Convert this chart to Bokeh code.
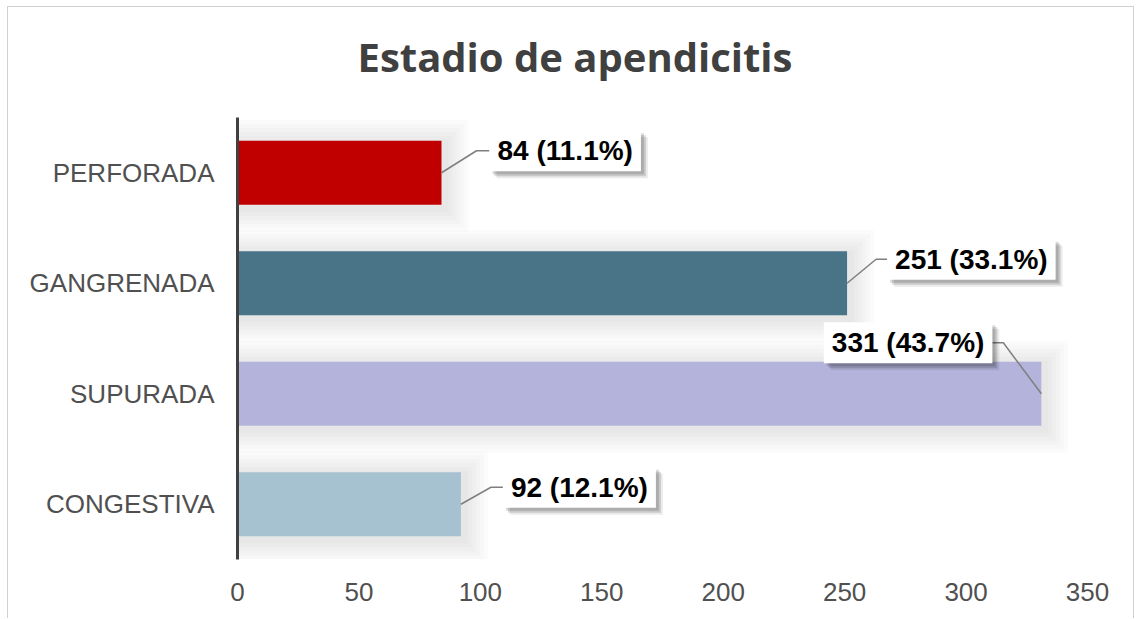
from bokeh.plotting import figure
from bokeh.models import Range1d, FixedTicker, ColumnDataSource
from bokeh.embed import file_html
from bokeh.resources import INLINE
from bokeh.core.properties import value

# ---------------- data ----------------
title_text = "Estadio de apendicitis"
categories = ["PERFORADA", "GANGRENADA", "SUPURADA", "CONGESTIVA"]
counts = [84, 251, 331, 92]
percents = [11.1, 33.1, 43.7, 12.1]
x_ticks = [0, 50, 100, 150, 200, 250, 300, 350]

# ---------------- style / layout ----------------
bar_colors = ["#C00000", "#497387", "#B4B3DC", "#A6C2D0"]
label_box_dx = [48, 40, -49, 42]     # px from bar end to near box edge
label_elbow_dx = [35, 29, -38, 30]   # px from bar end to leader elbow
label_dy = [-22, -24, -51, -17]      # px (screen, negative = up)

W, H = 1127, 612
MB_L, MB_R, MB_T, MB_B = 229, 48, 110, 60
FRAME_W = W - MB_L - MB_R
FRAME_H = H - MB_T - MB_B
X_MAX = x_ticks[-1]
n = len(categories)
PXX = FRAME_W / X_MAX
PXY = FRAME_H / n
BAR_H = 0.58
FONT = "Liberation Sans"

ys = [n - i for i in range(n)]

p = figure(width=W, height=H, x_range=Range1d(0, X_MAX), y_range=Range1d(0.5, n + 0.5),
           output_backend="svg", toolbar_location=None,
           min_border_left=MB_L, min_border_right=MB_R,
           min_border_top=MB_T, min_border_bottom=MB_B)
p.styles = {"margin-left": "7px", "margin-top": "6px",
            "border-left": "1px solid #d0d0d0", "border-top": "1px solid #d0d0d0",
            "border-right": "1px solid #d0d0d0"}
p.xgrid.visible = False
p.ygrid.visible = False
p.outline_line_color = None
p.background_fill_color = "white"
p.border_fill_color = "white"

# title
p.title.text = title_text
p.title.align = "left"
p.title.offset = 120
p.title.standoff = 10
p.title.padding = {"left": 0, "right": 0, "top": 0, "bottom": 29}
p.title.text_font = "Open Sans"
p.title.text_font_style = "bold"
p.title.text_font_size = "40px"
p.title.text_color = "#404040"

# soft shadow behind bars
for k in range(1, 7):
    g = 4 * k
    p.hbar(y=[yy - 3 / PXY for yy in ys], left=0,
           right=[c + (3 + g) / PXX for c in counts],
           height=BAR_H + 2 * g / PXY, fill_color="black", fill_alpha=0.015,
           line_color=None)

p.hbar(y=ys, left=0, right=counts, height=BAR_H, fill_color=bar_colors, line_color=None)

# leader lines
xs_l, ys_l = [], []
for c, yy, bdx, edx, dy in zip(counts, ys, label_box_dx, label_elbow_dx, label_dy):
    xs_l.append([c, c + edx / PXX, c + bdx / PXX])
    ys_l.append([yy, yy - dy / PXY, yy - dy / PXY])
p.multi_line(xs=xs_l, ys=ys_l, line_color="#7f7f7f", line_width=1.5)

# data labels
PAD_H, PAD_V = 8, 5
texts = [f"{c} ({pc:.1f}%)" for c, pc in zip(counts, percents)]
aligns = ["left" if d > 0 else "right" for d in label_box_dx]
xoffs = list(label_box_dx)
for sh, al in [(7, 0.08), (5, 0.14), (3, 0.14)]:
    ssrc = ColumnDataSource(dict(x=counts, y=ys, text=texts, align=aligns,
                                 xo=[v + sh for v in xoffs], yo=[v + sh for v in label_dy]))
    p.text(x="x", y="y", text="text", source=ssrc, text_align="align", text_baseline="middle",
           x_offset="xo", y_offset="yo", text_font=value(FONT), text_font_size="28px",
           text_font_style="bold", text_alpha=0, background_fill_color="black",
           background_fill_alpha=al, padding=(PAD_H, PAD_V))
src = ColumnDataSource(dict(x=counts, y=ys, text=texts, align=aligns, xo=xoffs, yo=label_dy))
p.text(x="x", y="y", text="text", source=src, text_align="align", text_baseline="middle",
       x_offset="xo", y_offset="yo", text_font=value(FONT), text_font_size="28px",
       text_font_style="bold", text_color="black", background_fill_color="white",
       padding=(PAD_H, PAD_V))

# axes
xa = p.xaxis[0]
xa.ticker = FixedTicker(ticks=x_ticks)
xa.axis_line_color = None
xa.major_tick_line_color = None
xa.minor_tick_line_color = None
xa.major_label_text_font = FONT
xa.major_label_text_font_size = "26px"
xa.major_label_text_color = "#505050"
xa.major_label_standoff = 17

ya = p.yaxis[0]
ya.ticker = FixedTicker(ticks=ys)
ya.major_label_overrides = {yy: c for yy, c in zip(ys, categories)}
ya.axis_line_color = "#404040"
ya.axis_line_width = 3
ya.major_tick_line_color = None
ya.minor_tick_line_color = None
ya.major_label_text_font = FONT
ya.major_label_text_font_size = "26px"
ya.major_label_text_color = "#505050"
ya.major_label_standoff = 17

open("out.html", "w").write(file_html(p, INLINE))
